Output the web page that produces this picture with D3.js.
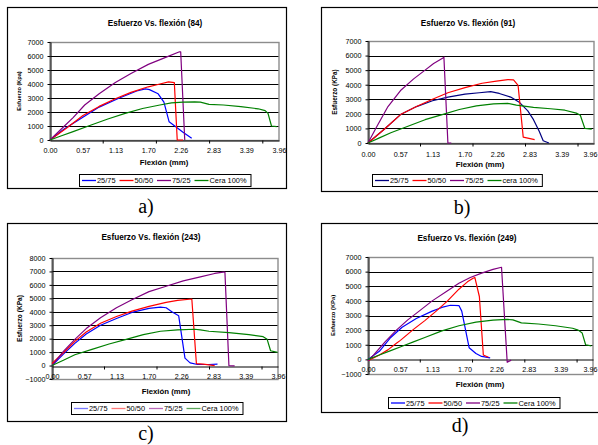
<!DOCTYPE html>
<html>
<head>
<meta charset="utf-8">
<script src="https://cdn.jsdelivr.net/npm/d3@7"></script>
<style>
  body { margin: 0; background: #fff; }
  svg { display: block; font-family: "Liberation Sans", Arial, sans-serif; }
</style>
</head>
<body>
<svg id="fig" width="598" height="445"></svg>
<script>
// series names and x axis ticks (Flexión, mm)
var seriesNames = ["25/75", "50/50", "75/25", "Cera 100%"];
var xTicks = [0, 0.566, 1.131, 1.697, 2.263, 2.829, 3.394, 3.96];
var xMinorTicks = [0.92, 1.84, 2.76, 3.68];
var yTicks7 = [0, 1000, 2000, 3000, 4000, 5000, 6000, 7000];
var yTicksC = [-1000, 0, 1000, 2000, 3000, 4000, 5000, 6000, 7000, 8000];
var yTicksD = [-1000, 0, 1000, 2000, 3000, 4000, 5000, 6000, 7000];

// a) probeta 84  [flexion mm, esfuerzo KPa]
var a2575 = [[0,0],[0.25,800],[0.5,1450],[0.85,2350],[1.2,3000],[1.5,3500],[1.65,3650],[1.72,3600],[1.87,3300],[1.97,2700],[2.06,1300],[2.3,550],[2.45,120]];
var a5050 = [[0,0],[0.3,900],[0.57,1750],[0.85,2400],[1.13,2950],[1.4,3400],[1.7,3800],[1.9,4000],[2.05,4150],[2.15,4100],[2.2,0],[2.3,0]];
var a7525 = [[0,0],[0.2,800],[0.4,1600],[0.6,2500],[0.85,3300],[1.13,4100],[1.4,4750],[1.7,5400],[2.0,5900],[2.24,6300],[2.26,6300],[2.33,0]];
var aCera = [[0,0],[0.2,300],[0.4,600],[0.7,1050],[1.0,1500],[1.3,1900],[1.6,2250],[1.9,2500],[2.1,2650],[2.3,2700],[2.5,2730],[2.6,2700],[2.75,2550],[3.0,2500],[3.3,2380],[3.6,2230],[3.72,2100],[3.77,1900],[3.83,1000],[3.92,950]];

// b) probeta 91
var b2575 = [[0,0],[0.3,1000],[0.57,1950],[0.85,2500],[1.13,2900],[1.4,3150],[1.7,3350],[1.95,3450],[2.15,3520],[2.3,3400],[2.5,3150],[2.65,2800],[2.8,2200],[2.9,1600],[3.0,800],[3.07,150],[3.17,0]];
var b5050 = [[0,0],[0.3,1000],[0.57,1950],[0.85,2500],[1.13,3000],[1.4,3450],[1.7,3800],[2.0,4100],[2.25,4250],[2.45,4350],[2.55,4330],[2.63,3950],[2.72,400],[2.92,230]];
var b7525 = [[0,0],[0.15,1100],[0.35,2500],[0.57,3600],[0.8,4400],[1.0,5000],[1.15,5450],[1.32,5850],[1.33,5900],[1.4,0],[1.46,0]];
var bCera = [[0,0],[0.2,350],[0.4,700],[0.7,1150],[1.0,1600],[1.3,1950],[1.6,2300],[1.9,2550],[2.2,2680],[2.45,2720],[2.6,2600],[2.9,2450],[3.2,2350],[3.45,2250],[3.65,2050],[3.72,1900],[3.8,1000],[3.92,950]];

// c) probeta 243
var c2575 = [[0,0],[0.2,850],[0.4,1650],[0.6,2350],[0.85,3000],[1.13,3500],[1.4,3950],[1.7,4250],[1.9,4350],[2.0,4300],[2.1,4000],[2.22,3700],[2.33,550],[2.42,200],[2.55,80],[2.75,80],[2.9,100]];
var c5050 = [[0,150],[0.2,950],[0.4,1800],[0.6,2500],[0.85,3150],[1.13,3650],[1.4,4050],[1.7,4400],[2.0,4700],[2.2,4850],[2.45,4950],[2.53,150],[2.65,100],[2.85,0]];
var c7525 = [[0,0],[0.2,1050],[0.4,1950],[0.6,2750],[0.85,3550],[1.13,4300],[1.4,4900],[1.7,5500],[2.0,5900],[2.3,6300],[2.6,6600],[2.85,6850],[3.0,6950],[3.03,6950],[3.1,0],[3.2,-30]];
var cCera = [[0,0],[0.2,400],[0.4,800],[0.7,1200],[1.0,1600],[1.3,1950],[1.6,2300],[1.9,2550],[2.2,2650],[2.5,2700],[2.6,2650],[2.75,2550],[3.1,2450],[3.45,2300],[3.7,2150],[3.77,1950],[3.83,1100],[3.95,980]];

// d) probeta 249
var d2575 = [[0,0],[0.2,550],[0.4,1500],[0.6,2200],[0.85,2800],[1.13,3300],[1.3,3550],[1.45,3700],[1.6,3680],[1.65,3300],[1.78,800],[1.9,400],[2.0,200],[2.15,100]];
var d5050 = [[0,-100],[0.2,300],[0.35,650],[0.5,1100],[0.57,1300],[0.8,2050],[1.0,2650],[1.2,3300],[1.4,4000],[1.6,4800],[1.75,5300],[1.85,5550],[1.88,5600],[1.96,4300],[2.03,300],[2.12,150]];
var d7525 = [[0,-100],[0.1,300],[0.3,1200],[0.5,2000],[0.7,2700],[0.9,3300],[1.13,4000],[1.4,4700],[1.6,5200],[1.8,5600],[2.0,5900],[2.2,6150],[2.35,6300],[2.45,-200],[2.52,-50]];
var dCera = [[0,0],[0.2,300],[0.4,600],[0.6,900],[0.8,1200],[1.0,1500],[1.3,1950],[1.6,2300],[1.9,2550],[2.2,2680],[2.45,2730],[2.55,2700],[2.7,2500],[3.0,2420],[3.3,2300],[3.6,2130],[3.7,2000],[3.77,1800],[3.83,1000],[3.93,920]];

var svg = d3.select("#fig");
var W = 598;

var panels = [
  { label: "a)", lx: 146, ly: 213, title: "Esfuerzo Vs. flexión (84)", ylab: "Esfuerzo (Kpa)", ylabSize: 5.6,
    box: [7, 7, 279, 181], x0: 50, x1: 279, yTop: 42, yBot: 140, yDom: [0, 7000], ticks: yTicks7,
    titleXY: [155, 26], xlabXY: [164, 165], ylabX: 21, xPad: 7,
    leg: [79, 174, 12], legNames: ["25/75", "50/50", "75/25", "Cera 100%"],
    colors: ["#0000ff", "#ff0000", "#800080", "#008000"], legColors: null,
    series: [a2575, a5050, a7525, aCera] },
  { label: "b)", lx: 462, ly: 214, title: "Esfuerzo Vs. flexión (91)", ylab: "Esfuerzo (KPa)", ylabSize: 6.4,
    box: [321, 7, 290, 184], x0: 368, x1: 594, yTop: 41, yBot: 143, yDom: [0, 7000], ticks: yTicks7,
    titleXY: [468, 26], xlabXY: [480, 167], ylabX: 337, xPad: 8,
    leg: [372, 174, 12], legNames: ["25/75", "50/50", "75/25", "cera 100%"],
    colors: ["#000080", "#ff0000", "#800080", "#008000"], legColors: null,
    series: [b2575, b5050, b7525, bCera] },
  { label: "c)", lx: 146, ly: 440, title: "Esfuerzo Vs. flexión (243)", ylab: "Esfuerzo (KPa)", ylabSize: 6.6,
    box: [7, 223, 279, 198], x0: 52, x1: 278, yTop: 258, yBot: 379, yDom: [-1000, 8000], ticks: yTicksC,
    titleXY: [151, 240], xlabXY: [166, 394], ylabX: 22, xPad: 7.5,
    leg: [71, 402, 12], legNames: ["25/75", "50/50", "75/25", "Cera 100%"],
    colors: ["#0000ff", "#ff0000", "#800080", "#008000"],
    legColors: ["#7a7aff", "#ff7a7a", "#bb6abb", "#5aa65a"],
    series: [c2575, c5050, c7525, cCera] },
  { label: "d)", lx: 460, ly: 432, title: "Esfuerzo Vs. flexión (249)", ylab: "Esfuerzo (KPa)", ylabSize: 5.8,
    box: [321, 223, 290, 189], x0: 368, x1: 593, yTop: 257, yBot: 374, yDom: [-1000, 7000], ticks: yTicksD,
    titleXY: [467, 241], xlabXY: [480, 387], ylabX: 335, xPad: 7.2,
    leg: [388, 397, 11], legNames: ["25/75", "50/50", "75/25", "Cera 100%"],
    colors: ["#0000ff", "#ff0000", "#800080", "#008000"], legColors: null,
    series: [d2575, d5050, d7525, dCera] }
];

panels.forEach(function (p) {
  var g = svg.append("g");

  // outer frame
  g.append("rect")
    .attr("x", p.box[0] + 0.5).attr("y", p.box[1] + 0.5)
    .attr("width", p.box[2]).attr("height", p.box[3])
    .attr("fill", "#fff").attr("stroke", "#000").attr("stroke-width", 1.2);

  var x = d3.scaleLinear().domain([0, 3.96]).range([p.x0, p.x1]);
  var y = d3.scaleLinear().domain(p.yDom).range([p.yBot, p.yTop]);

  // horizontal gridlines
  g.selectAll("line.grid")
    .data(p.ticks.filter(function (v) { return v !== 0 && v !== p.yDom[0] && v !== p.yDom[1]; }))
    .enter().append("line")
    .attr("x1", p.x0).attr("x2", p.x1)
    .attr("y1", function (d) { return Math.round(y(d)) + 0.5; })
    .attr("y2", function (d) { return Math.round(y(d)) + 0.5; })
    .attr("stroke", "#000").attr("stroke-width", 1);

  // plot area border (gray)
  g.append("rect")
    .attr("x", p.x0).attr("y", Math.round(y(p.yDom[1])) + 0.5)
    .attr("width", p.x1 - p.x0).attr("height", Math.round(y(p.yDom[0])) - Math.round(y(p.yDom[1])))
    .attr("fill", "none").attr("stroke", "#8c8c8c").attr("stroke-width", 1.4);

  // y axis
  var yAxis = d3.axisLeft(y).tickValues(p.ticks).tickSize(3).tickSizeOuter(0)
    .tickPadding(4).tickFormat(d3.format("d"));
  var ya = g.append("g").attr("transform", "translate(" + (p.x0 + 0.5) + ",0)").call(yAxis);
  ya.selectAll("text").style("font-size", "7.2px").attr("fill", "#000");
  ya.selectAll("line,path").attr("stroke", "#000");

  // x axis at esfuerzo = 0
  var xAxis = d3.axisBottom(x).tickValues(xTicks).tickSize(0).tickSizeOuter(0)
    .tickPadding(p.xPad).tickFormat(d3.format(".2f"));
  var xa = g.append("g").attr("transform", "translate(0," + (Math.round(y(0)) + 0.5) + ")").call(xAxis);
  xa.selectAll("text").style("font-size", "7.2px").attr("fill", "#000")
    .each(function (d) {
      // keep the last label inside the picture
      var w = this.getComputedTextLength();
      if (x(d) + w / 2 > W - 1) {
        d3.select(this).attr("text-anchor", "end").attr("x", (W - 1) - x(d));
      }
    });
  xa.select(".domain").attr("stroke", "#000");
  xa.selectAll(".minor").data(xMinorTicks).enter().append("line")
    .attr("x1", function (d) { return x(d); }).attr("x2", function (d) { return x(d); })
    .attr("y1", 0).attr("y2", 3).attr("stroke", "#000");

  // series lines
  var line = d3.line()
    .x(function (d) { return x(d[0]); })
    .y(function (d) { return y(d[1]); });
  p.series.forEach(function (s, i) {
    g.append("path").datum(s)
      .attr("fill", "none").attr("stroke", p.colors[i])
      .attr("stroke-width", 1.2).attr("stroke-linejoin", "round")
      .attr("d", line);
  });

  // titles
  g.append("text").attr("x", p.titleXY[0]).attr("y", p.titleXY[1])
    .attr("text-anchor", "middle").style("font-size", "8.2px").style("font-weight", "bold")
    .text(p.title);
  g.append("text").attr("x", p.xlabXY[0]).attr("y", p.xlabXY[1])
    .attr("text-anchor", "middle").style("font-size", "7.8px").style("font-weight", "bold")
    .text("Flexión (mm)");
  var ym = (p.yTop + p.yBot) / 2;
  g.append("text")
    .attr("transform", "translate(" + p.ylabX + "," + ym + ") rotate(-90)")
    .attr("text-anchor", "middle").style("font-size", p.ylabSize + "px").style("font-weight", "bold")
    .text(p.ylab);

  // legend
  var lg = g.append("g");
  var lrect = lg.append("rect")
    .attr("x", p.leg[0] + 0.5).attr("y", p.leg[1] + 0.5).attr("height", p.leg[2])
    .attr("fill", "#fff").attr("stroke", "#000").attr("stroke-width", 1);
  var cx = p.leg[0] + 3;
  var my = p.leg[1] + p.leg[2] / 2 + 0.5;
  p.legNames.forEach(function (name, i) {
    var col = p.legColors ? p.legColors[i] : p.colors[i];
    lg.append("line").attr("x1", cx).attr("x2", cx + 14).attr("y1", my).attr("y2", my)
      .attr("stroke", col).attr("stroke-width", 1.3);
    var t = lg.append("text").attr("x", cx + 15).attr("y", my + 2.6)
      .style("font-size", "7.4px").text(name);
    cx += 15 + t.node().getComputedTextLength() + 4;
  });
  lrect.attr("width", cx - p.leg[0]);

  // sub-figure label
  svg.append("text").attr("x", p.lx).attr("y", p.ly)
    .attr("text-anchor", "middle")
    .style("font-family", "'Liberation Serif', 'Times New Roman', serif")
    .style("font-size", "20px")
    .text(p.label);
});
</script>
</body>
</html>
